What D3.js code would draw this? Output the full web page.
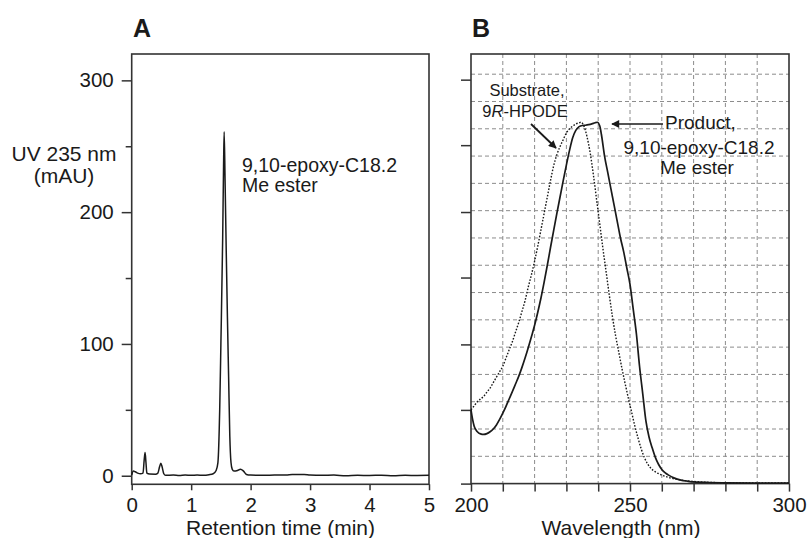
<!DOCTYPE html>
<html><head><meta charset="utf-8">
<script src="https://cdn.jsdelivr.net/npm/d3@7/dist/d3.min.js"></script>
<style>
html,body{margin:0;padding:0;background:#fff;}
text{font-family:"Liberation Sans",Arial,Helvetica,sans-serif;fill:#1a1a1a;}
</style></head>
<body>
<svg id="chart" width="809" height="538"></svg>
<script>
// ---------- Panel A data: HPLC chromatogram (time min, mAU) ----------
const chromTime = [0,0.03,0.06,0.1,0.15,0.19,0.21,0.225,0.24,0.255,0.3,0.4,0.44,0.47,0.49,0.51,0.54,0.57,0.7,0.8,0.9,1.0,1.1,1.2,1.3,1.37,1.42,1.45,1.48,1.50,1.53,1.545,1.555,1.57,1.59,1.61,1.63,1.65,1.67,1.69,1.72,1.78,1.83,1.88,1.93,2.0,2.2,2.4,2.6,2.7,2.9,3.0,3.2,3.4,3.6,3.8,4.0,4.2,4.4,4.6,4.8,5.0];
const chromMAU  = [0.5,3.5,3,2,1.5,2,12,17.7,10,2,1.3,1.2,2,7,9.4,7,1.5,0.3,0.5,0.2,0.6,0.3,0.5,0.4,0.8,1.5,4,10,50,100,180,235,261,225,170,120,75,30,10,5,3.5,4,5,3.5,1,0.5,0.3,0.5,0.6,1,1,0.5,0.3,0.5,0,0.3,0.2,0.4,0,0.3,0.2,0.3];
const yTicksA = [0,100,200,300];
const yMinorA = [50,150,250];
const xTicksA = [0,1,2,3,4,5];

// ---------- Panel B data: UV spectra (nm, absorbance) ----------
const productNm = [200,200.5,201,202,203,204,205,206,207,208,209,210,211,212,213,214,215,216,217,218,219,220,221,222,223,224,225,226,227,228,229,230,231,232,233,234,235,236,237,238,239,239.7,240.5,241,242,243,244,245,246,247,248,249,250,251,252,253,254,255,256,257,258,259,260,261,262,264,266,268,270,275,280,290,300];
const productAbs = [0.27,0.235,0.21,0.19,0.182,0.18,0.183,0.19,0.2,0.215,0.235,0.258,0.283,0.31,0.337,0.365,0.393,0.425,0.46,0.498,0.538,0.58,0.628,0.68,0.738,0.8,0.865,0.928,0.99,1.05,1.11,1.168,1.222,1.268,1.295,1.308,1.312,1.313,1.315,1.318,1.322,1.324,1.31,1.28,1.2,1.14,1.08,1.02,0.96,0.9,0.85,0.79,0.73,0.64,0.55,0.43,0.33,0.23,0.17,0.13,0.095,0.07,0.052,0.04,0.032,0.02,0.013,0.009,0.006,0.004,0.003,0.002,0.002];
const substrateNm = [200,201,202,203,204,205,206,207,208,209,210,211,212,213,214,215,216,217,218,219,220,221,222,223,224,225,226,227,228,229,230,231,232,233,234,234.6,235.5,236.5,237.5,238.5,239.5,240.5,241.5,242.5,243.5,244.5,245.5,246.5,247.5,248.5,249.5,250.5,251.5,252.5,253.5,254.5,255.5,256.5,258,260,262,265,268,272,276,280,290,300];
const substrateAbs = [0.27,0.285,0.3,0.31,0.32,0.335,0.35,0.37,0.39,0.41,0.43,0.46,0.49,0.52,0.555,0.59,0.63,0.67,0.72,0.765,0.815,0.87,0.93,0.99,1.05,1.11,1.165,1.205,1.235,1.26,1.285,1.3,1.31,1.318,1.322,1.324,1.31,1.27,1.21,1.13,1.04,0.95,0.86,0.775,0.69,0.61,0.54,0.48,0.42,0.365,0.312,0.262,0.212,0.168,0.128,0.096,0.073,0.057,0.043,0.031,0.023,0.015,0.01,0.006,0.004,0.003,0.002,0.002];
const xTicksB = [200,210,220,230,240,250,260,270,280,290,300];
const xLabelsB = [200,250,300];
const yTicksB = [0,0.27,0.51,0.755,0.995,1.24,1.48];
const yGridB = [0.1,0.2,0.3,0.4,0.5,0.6,0.7,0.8,0.9,1.0,1.1,1.2,1.3,1.4,1.5];

const svg = d3.select("#chart");
const ink = "#1a1a1a";

// ================= Panel A =================
const xA = d3.scaleLinear().domain([0,5]).range([131.7,429]);
const yA = d3.scaleLinear().domain([-6.5,320]).range([484.3,54]);
const gA = svg.append("g");

gA.append("rect").attr("x",xA(0)).attr("y",yA(320)).attr("width",xA(5)-xA(0)).attr("height",yA(-6.5)-yA(320))
  .attr("fill","none").attr("stroke","#333").attr("stroke-width",1.6);

const axYA = gA.append("g").attr("transform",`translate(${xA(0)},0)`)
  .call(d3.axisLeft(yA).tickValues(yTicksA).tickSize(10).tickPadding(8).tickFormat(d3.format("d")));
const axYAm = gA.append("g").attr("transform",`translate(${xA(0)},0)`)
  .call(d3.axisLeft(yA).tickValues(yMinorA).tickSize(6).tickFormat(""));
const axXA = gA.append("g").attr("transform",`translate(0,${yA(-6.5)})`)
  .call(d3.axisBottom(xA).tickValues(xTicksA).tickSize(6).tickPadding(7).tickFormat(d3.format("d")));
[axYA,axYAm,axXA].forEach(a=>{
  a.select(".domain").remove();
  a.selectAll("line").attr("stroke","#333").attr("stroke-width",1.5);
  a.selectAll("text").style("font-size","20.5px").attr("fill",ink);
});

const lineA = d3.line().x((d,i)=>xA(chromTime[i])).y((d,i)=>yA(chromMAU[i])).curve(d3.curveMonotoneX);
gA.append("path").attr("d",lineA(chromTime)).attr("fill","none").attr("stroke",ink).attr("stroke-width",1.5);

gA.append("text").attr("x",133).attr("y",37).style("font-size","25px").style("font-weight","bold").text("A");
gA.append("text").attr("x",64).attr("y",161).attr("text-anchor","middle").style("font-size","21px").text("UV 235 nm");
gA.append("text").attr("x",64).attr("y",183).attr("text-anchor","middle").style("font-size","21px").text("(mAU)");
gA.append("text").attr("x",242).attr("y",172).style("font-size","19.5px").text("9,10-epoxy-C18.2");
gA.append("text").attr("x",242).attr("y",192).style("font-size","19.5px").text("Me ester");
gA.append("text").attr("x",280.5).attr("y",535).attr("text-anchor","middle").style("font-size","21px").text("Retention time (min)");

// ================= Panel B =================
const xB = d3.scaleLinear().domain([200,300]).range([471,789]);
const yB = d3.scaleLinear().domain([0,1.574]).range([483.6,54]);
const gB = svg.append("g");

gB.append("g").selectAll("line").data(xTicksB.slice(1,-1)).join("line")
  .attr("x1",d=>xB(d)).attr("x2",d=>xB(d)).attr("y1",yB(1.574)).attr("y2",yB(0))
  .attr("stroke","#8c8c8c").attr("stroke-width",1).attr("stroke-dasharray","4,3");
gB.append("g").selectAll("line").data(yGridB).join("line")
  .attr("x1",xB(200)).attr("x2",xB(300)).attr("y1",d=>yB(d)).attr("y2",d=>yB(d))
  .attr("stroke","#8c8c8c").attr("stroke-width",1).attr("stroke-dasharray","4,3");

gB.append("rect").attr("x",xB(200)).attr("y",yB(1.574)).attr("width",xB(300)-xB(200)).attr("height",yB(0)-yB(1.574))
  .attr("fill","none").attr("stroke","#333").attr("stroke-width",1.6);

const axYB = gB.append("g").attr("transform",`translate(${xB(200)},0)`)
  .call(d3.axisLeft(yB).tickValues(yTicksB).tickSize(10).tickFormat(""));
const axXB = gB.append("g").attr("transform",`translate(0,${yB(0)})`)
  .call(d3.axisBottom(xB).tickValues(xTicksB).tickSize(8).tickPadding(6)
    .tickFormat(d=>xLabelsB.includes(d)?d3.format("d")(d):""));
[axYB,axXB].forEach(a=>{
  a.select(".domain").remove();
  a.selectAll("line").attr("stroke","#333").attr("stroke-width",1.5);
  a.selectAll("text").style("font-size","20.5px").attr("fill",ink);
});

const lineProd = d3.line().x((d,i)=>xB(productNm[i])).y((d,i)=>yB(productAbs[i])).curve(d3.curveMonotoneX);
const lineSub = d3.line().x((d,i)=>xB(substrateNm[i])).y((d,i)=>yB(substrateAbs[i])).curve(d3.curveMonotoneX);
gB.append("path").attr("d",lineSub(substrateNm)).attr("fill","none").attr("stroke",ink).attr("stroke-width",1.4).attr("stroke-dasharray","1.6,1.6");
gB.append("path").attr("d",lineProd(productNm)).attr("fill","none").attr("stroke",ink).attr("stroke-width",1.7);

gB.append("text").attr("x",472).attr("y",37).style("font-size","25px").style("font-weight","bold").text("B");

const defs = svg.append("defs");
defs.append("marker").attr("id","ah").attr("viewBox","0 0 10 10").attr("refX",9).attr("refY",5)
  .attr("markerWidth",11).attr("markerHeight",8).attr("markerUnits","userSpaceOnUse").attr("orient","auto")
  .append("path").attr("d","M0,0 L10,5 L0,10 z").attr("fill",ink);
gB.append("line").attr("x1",531).attr("y1",124).attr("x2",556).attr("y2",148)
  .attr("stroke",ink).attr("stroke-width",1.8).attr("marker-end","url(#ah)");
gB.append("line").attr("x1",663).attr("y1",124).attr("x2",612).attr("y2",124)
  .attr("stroke",ink).attr("stroke-width",1.5).attr("marker-end","url(#ah)");

gB.append("text").attr("x",527).attr("y",96).attr("text-anchor","middle").style("font-size","16.5px").text("Substrate,");
const t9 = gB.append("text").attr("x",525).attr("y",117).attr("text-anchor","middle").style("font-size","16.5px");
t9.append("tspan").text("9");
t9.append("tspan").style("font-style","italic").text("R");
t9.append("tspan").text("-HPODE");
gB.append("text").attr("x",665).attr("y",129).style("font-size","19px").text("Product,");
gB.append("text").attr("x",699).attr("y",154).attr("text-anchor","middle").style("font-size","19px").text("9,10-epoxy-C18.2");
gB.append("text").attr("x",697).attr("y",174).attr("text-anchor","middle").style("font-size","19px").text("Me ester");
gB.append("text").attr("x",621).attr("y",535).attr("text-anchor","middle").style("font-size","21px").text("Wavelength (nm)");
</script>
</body></html>
